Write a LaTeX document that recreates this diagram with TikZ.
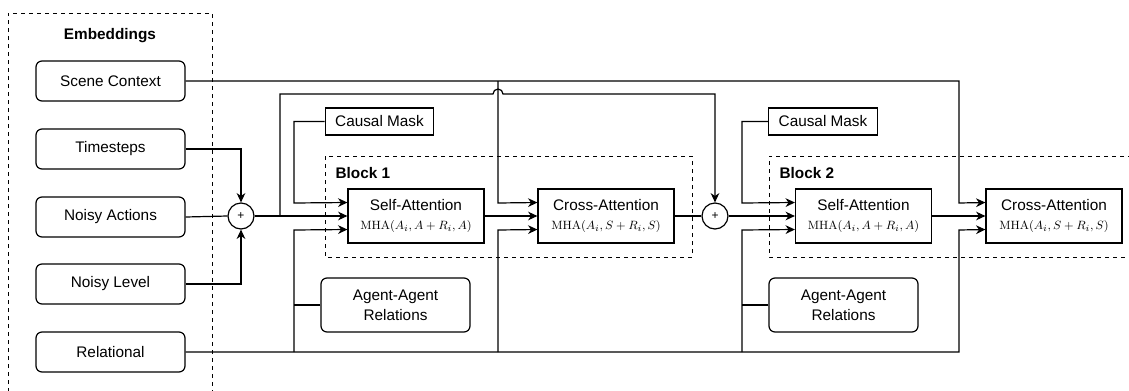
\documentclass[tikz,border=0pt]{standalone}
\usepackage[no-math]{fontspec}
\setmainfont{Liberation Sans}
\usetikzlibrary{arrows.meta,calc}
\newcommand\mhafont{\fontsize{9.5}{11}\selectfont}
\begin{document}
\begin{tikzpicture}[x=0.75pt,y=-0.75pt,
  line width=0.9pt,
  font=\fontsize{11.5}{15}\selectfont,
  arr/.style={-{Stealth[length=7pt,width=6.5pt,inset=2.2pt]}},
  embbox/.style={draw,rounded corners=4.5pt,minimum width=111.75pt,minimum height=30pt,inner sep=0pt},
  attbox/.style={draw,minimum width=102pt,minimum height=40.5pt,inner sep=0pt,align=center},
  maskbox/.style={draw,minimum width=81.5pt,minimum height=20.25pt,inner sep=0pt},
  relbox/.style={draw,rounded corners=4.5pt,minimum width=111.75pt,minimum height=40.5pt,inner sep=0pt,align=center},
  plusnode/.style={draw,circle,minimum size=19.5pt,inner sep=0pt,font=\fontsize{9}{10}\selectfont},
  grp/.style={draw,dashed,line width=0.7pt},
  ttl/.style={font=\fontsize{11.5}{14}\selectfont\bfseries,anchor=west,inner sep=0pt}
]
\useasboundingbox (0,0) rectangle (1129,390);
% group frames
\draw[grp] (8,400) -- (8,13) -- (212,13) -- (212,400);
\node[font=\fontsize{11.5}{14}\selectfont\bfseries,inner sep=0pt] (embt) at (110,36) {Embeddings};
\draw[grp] (325,156) rectangle (692,257);
\draw[grp] (1140,156) -- (769,156) -- (769,257) -- (1140,257);
\node[ttl] (b1t) at (335,173) {Block 1};
\node[ttl] (b2t) at (779,173) {Block 2};

% embedding boxes
\node[embbox] (sc) at (110.5,81) {Scene Context};
\node[embbox] (ts) at (110.5,149) {Timesteps};
\node[embbox] (na) at (110.5,217) {Noisy Actions};
\node[embbox] (nl) at (110.5,284) {Noisy Level};
\node[embbox] (rel) at (110.5,352) {Relational};

% plus nodes
\node[plusnode] (p1) at (241,216) {+};
\node[plusnode] (p2) at (715,216) {+};

% attention blocks
\node[attbox] (sa1) at (416,216) {Self-Attention\\[-1pt]{\mhafont $\mathrm{MHA}(A_i,A+R_i,A)$}};
\node[attbox] (ca1) at (606,216) {Cross-Attention\\[-1pt]{\mhafont $\mathrm{MHA}(A_i,S+R_i,S)$}};
\node[attbox] (sa2) at (863.5,216) {Self-Attention\\[-1pt]{\mhafont $\mathrm{MHA}(A_i,A+R_i,A)$}};
\node[attbox] (ca2) at (1054,216) {Cross-Attention\\[-1pt]{\mhafont $\mathrm{MHA}(A_i,S+R_i,S)$}};

\node[maskbox] (cm1) at (379.5,121.5) {Causal Mask};
\node[maskbox] (cm2) at (823,121.5) {Causal Mask};
\node[relbox] (aa1) at (395.5,305) {Agent-Agent\\Relations};
\node[relbox] (aa2) at (843.5,305) {Agent-Agent\\Relations};

% coordinates
\coordinate (sa1t) at ($(sa1.west)+(0,-13.5)$);
\coordinate (sa1b) at ($(sa1.west)+(0,13.5)$);
\coordinate (ca1t) at ($(ca1.west)+(0,-13.5)$);
\coordinate (ca1b) at ($(ca1.west)+(0,13.5)$);
\coordinate (sa2t) at ($(sa2.west)+(0,-13.5)$);
\coordinate (sa2b) at ($(sa2.west)+(0,13.5)$);
\coordinate (ca2t) at ($(ca2.west)+(0,-13.5)$);
\coordinate (ca2b) at ($(ca2.west)+(0,13.5)$);
\coordinate (res) at (280,216);
\coordinate (j1) at (493,94);

% embeddings into plus
\draw[arr] (ts.east) -| (p1.north);
\draw[arr] (nl.east) -| (p1.south);
\draw (na.east) -- (p1.west);
\draw[arr] (p1.east) -- (sa1.west);

% residual with jump
\draw[arr] (res) -- (280,94) -- (j1) arc[start angle=180,end angle=0,radius=3.75pt] -- (715,94) -- (p2.north);

% scene context
\draw[arr] (sc.east) -- (959,81) -- (959,203) -- (ca2t);
\draw[arr] (498,81) -- (498,203) -- (ca1t);

% causal masks
\draw[arr] (cm1.west) -- (294,121.5) -- (294,203) -- (sa1t);
\draw[arr] (cm2.west) -- (742,121.5) -- (742,203) -- (sa2t);

% relational
\draw[arr] (rel.east) -- (959,352) -- (959,230) -- (ca2b);
\draw[arr] (294,352) -- (294,230) -- (sa1b);
\draw[arr] (498,352) -- (498,230) -- (ca1b);
\draw[arr] (742,352) -- (742,230) -- (sa2b);
\draw (aa1.west) -- (294,305);
\draw (aa2.west) -- (742,305);

% main flow
\draw[arr] (sa1.east) -- (ca1.west);
\draw (ca1.east) -- (p2.west);
\draw[arr] (p2.east) -- (sa2.west);
\draw[arr] (sa2.east) -- (ca2.west);
\end{tikzpicture}
\end{document}
